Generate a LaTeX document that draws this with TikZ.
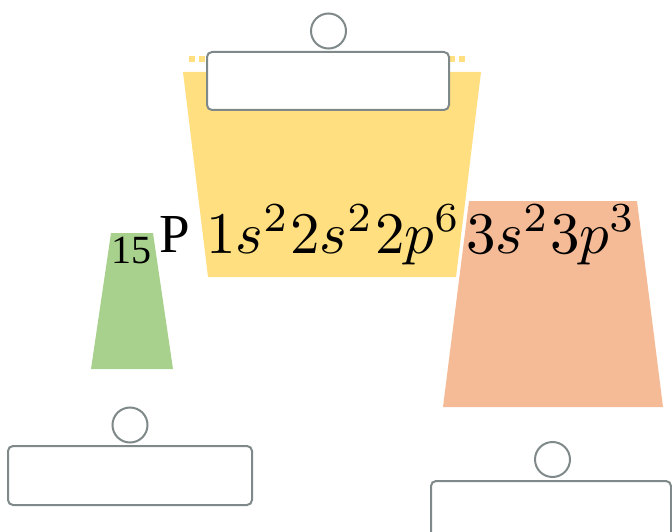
\documentclass[tikz,border=0pt]{standalone}
\usepackage{fontspec}
\newfontfamily\tnr{Liberation Serif}
\begin{document}
\begin{tikzpicture}[x=1pt,y=-1pt,
  frame/.style={draw=boxgray,line width=2pt,fill=white,rounded corners=5pt},
  knob/.style={draw=boxgray,line width=2pt,fill=white},
  term/.style={anchor=base west,inner sep=0pt}]
\definecolor{boxgray}{RGB}{128,137,137}
\definecolor{yel}{RGB}{255,223,128}
\definecolor{grn}{RGB}{169,209,142}
\definecolor{org}{RGB}{244,187,150}
\clip (0,0) rectangle (672,532);
\useasboundingbox (0,0) rectangle (672,532);
% trapezoids
\fill[yel] (183,72) -- (481,72) -- (456,277) -- (208,277) -- cycle;
\fill[grn] (111,233) -- (153,233) -- (173,369) -- (91,369) -- cycle;
\fill[org] (469,201) -- (637,201) -- (663,407) -- (443,407) -- cycle;
% dotted top line
\draw[yel,line width=6pt,dash pattern=on 6pt off 4pt] (189,59) -- (469,59);
% top box
\draw[frame] (207,52) rectangle (449,110);
\draw[knob] (328.5,31) circle (17.5);
% bottom boxes
\draw[frame] (8,446) rectangle (252,505);
\draw[knob] (130,425) circle (17.5);
\draw[frame] (431,481) rectangle (671,560);
\draw[knob] (552.5,459.5) circle (17.5);
% text
\node[anchor=base west,inner sep=0pt,font=\tnr\fontsize{40}{40}\selectfont] (z) at (111,263) {15};
\node[anchor=base west,inner sep=0pt,font=\tnr\fontsize{55}{55}\selectfont] (p) at (159,252) {P};
\node[term] (t1) at (206,253) {\scalebox{5.9}{$1s^2$}};
\node[term] (t2) at (290,253) {\scalebox{5.9}{$2s^2$}};
\node[term] (t3) at (375,253) {\scalebox{5.9}{$2p^6$}};
\node[term] (t4) at (466,253) {\scalebox{5.9}{$3s^2$}};
\node[term] (t5) at (550,253) {\scalebox{5.9}{$3p^3$}};
\end{tikzpicture}
\end{document}
